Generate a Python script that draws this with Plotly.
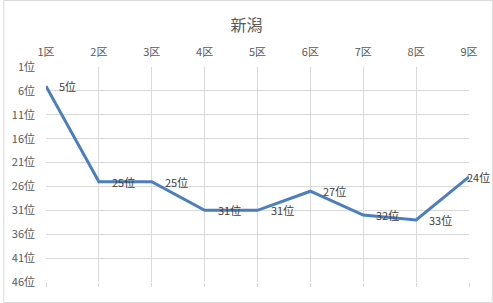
import plotly.graph_objects as go

districts = ["1区", "2区", "3区", "4区", "5区", "6区", "7区", "8区", "9区"]
ranks = [5, 25, 25, 31, 31, 27, 32, 33, 24]
ytick_vals = [1, 6, 11, 16, 21, 26, 31, 36, 41, 46]
ytick_text = [f"{v}位" for v in ytick_vals]
title = "新潟"

W, H = 493, 303
L, R, T, B = 43, 24, 67, 21
pw, ph = W - L - R, H - T - B

font = "Noto Sans CJK JP, Meiryo, sans-serif"
fig = go.Figure()
fig.add_trace(go.Scatter(
    x=list(range(len(districts))), y=ranks, mode="lines",
    line=dict(color="#4a7ebf", width=3),
    cliponaxis=False, showlegend=False,
))
# bottom axis ticks (no labels)
fig.add_trace(go.Scatter(x=[0], y=[46], xaxis="x2", mode="markers",
                         marker=dict(opacity=0), showlegend=False, hoverinfo="skip"))

annotations = []
n = len(districts)
for i, r in enumerate(ranks):
    last = i == n - 1
    annotations.append(dict(
        x=i, y=r, xref="x", yref="y", text=f"{r}位", showarrow=False,
        xanchor="left", yanchor="middle", xshift=-4 if last else 11,
        font=dict(size=11, color="#404040", family=font)))

fig.update_layout(
    width=W, height=H, margin=dict(l=L, r=R, t=T, b=B),
    paper_bgcolor="white", plot_bgcolor="white",
    title=dict(text=title, x=0.5, xanchor="center", y=1 - 25 / H, yanchor="middle",
               font=dict(size=16, color="#595959", family=font)),
    xaxis=dict(side="top", range=[0, 8], tickmode="array",
               tickvals=list(range(n)), ticktext=districts,
               showgrid=True, gridcolor="#d9d9d9", gridwidth=1,
               zeroline=False, showline=False, ticks="", ticklabelstandoff=8,
               tickfont=dict(size=11, color="#595959", family=font)),
    xaxis2=dict(overlaying="x", side="bottom", range=[0, 8], tickmode="array",
                tickvals=list(range(n)), showticklabels=False,
                ticks="outside", ticklen=4, tickcolor="#d9d9d9",
                showgrid=False, zeroline=False, showline=False),
    yaxis=dict(range=[46, 1], tickmode="array", tickvals=ytick_vals, ticktext=ytick_text,
               showgrid=True, gridcolor="#d9d9d9", gridwidth=1, zeroline=False,
               showline=False, ticks="", ticklabelstandoff=10,
               tickfont=dict(size=11, color="#595959", family=font)),
    annotations=annotations,
    shapes=[dict(type="rect", xref="paper", yref="paper",
                 x0=-(L - 0.5) / pw, x1=1 + (R - 0.5) / pw,
                 y0=-(B - 0.5) / ph, y1=1 + (T - 0.5) / ph,
                 line=dict(color="#d9d9d9", width=1))],
)
fig.write_html("out.html")
